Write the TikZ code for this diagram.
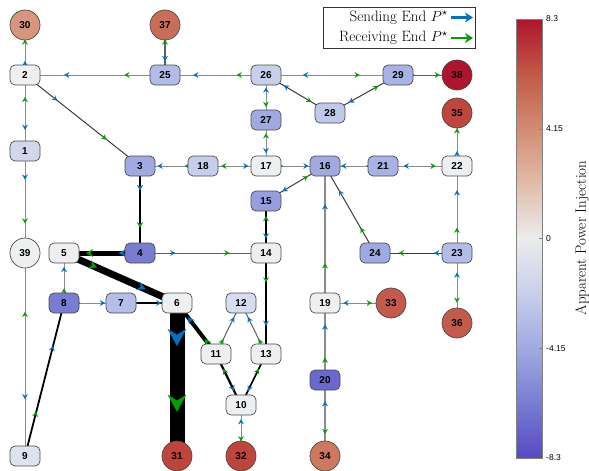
\documentclass[tikz,border=0pt]{standalone}
\usepackage{fontspec}
\setsansfont{Liberation Sans}
\usetikzlibrary{arrows.meta,decorations.markings,backgrounds}

\definecolor{cBlue}{RGB}{0,114,189}
\definecolor{cGreen}{RGB}{0,160,0}
\definecolor{cW}{RGB}{238,239,240}
\definecolor{gA}{RGB}{140,140,140}
\definecolor{gB}{RGB}{95,95,95}
\definecolor{gC}{RGB}{60,60,60}
\definecolor{cbGray}{RGB}{130,130,130}
% colour bar stops
\definecolor{cb0}{RGB}{88,72,196}
\definecolor{cb1}{RGB}{120,125,210}
\definecolor{cb2}{RGB}{160,170,225}
\definecolor{cb3}{RGB}{200,207,235}
\definecolor{cb4}{RGB}{236,236,237}
\definecolor{cb5}{RGB}{225,188,170}
\definecolor{cb6}{RGB}{210,140,115}
\definecolor{cb7}{RGB}{194,88,72}
\definecolor{cb8}{RGB}{175,20,45}
\pgfdeclareverticalshading{cbar}{100bp}{color(0bp)=(cb0); color(25bp)=(cb0); color(31.25bp)=(cb1); color(37.5bp)=(cb2); color(43.75bp)=(cb3); color(50bp)=(cb4); color(56.25bp)=(cb5); color(62.5bp)=(cb6); color(68.75bp)=(cb7); color(75bp)=(cb8); color(100bp)=(cb8)}

\newcommand{\dirA}{\arrowreversed}
\newcommand{\dirB}{\arrow}
\newcommand{\flowline}[7]{%
  \draw[line width=#3, draw=#4] (#1.center) -- (#2.center);
  \path[decorate, decoration={markings,
    mark=at position 0.28 with {#6[cBlue]{Stealth[length=#5, width'=0pt 1.1, inset'=0pt 0.35, line width=0.1pt]}},
    mark=at position 0.71 with {#7[cGreen]{Stealth[length=#5, width'=0pt 1.1, inset'=0pt 0.35, line width=0.1pt]}}}]
    (#1.center) -- (#2.center);
}

\begin{document}
\begin{tikzpicture}[x=1pt,y=-1pt,
  bus/.style={draw=black!70, line width=0.7pt, rounded corners=5pt, minimum width=30pt, minimum height=20pt, inner sep=0pt, font=\sffamily\bfseries\fontsize{10}{10}\selectfont},
  gen/.style={circle, draw=black!70, line width=0.7pt, minimum size=30pt, inner sep=0pt, font=\sffamily\bfseries\fontsize{10}{10}\selectfont},
  ticklab/.style={anchor=west, inner sep=0pt, font=\sffamily\fontsize{8.5}{8.5}\selectfont}]
\useasboundingbox (0,0) rectangle (589,471);

% buses
\node[gen, fill={rgb,255:red,213;green,150;blue,125}] (n30) at (25,25) {30};
\node[gen, fill={rgb,255:red,200;green,110;blue,88}] (n37) at (165,25) {37};
\node[bus, fill=cW] (n2) at (25,75) {2};
\node[bus, fill={rgb,255:red,178;green,188;blue,230}] (n25) at (165,75) {25};
\node[bus, fill={rgb,255:red,200;green,207;blue,235}] (n26) at (266,75) {26};
\node[bus, fill={rgb,255:red,168;green,178;blue,228}] (n29) at (398,75) {29};
\node[gen, fill={rgb,255:red,175;green,20;blue,45}] (n38) at (457,75) {38};
\node[bus, fill={rgb,255:red,192;green,200;blue,235}] (n28) at (330,113) {28};
\node[bus, fill={rgb,255:red,160;green,170;blue,225}] (n27) at (266,120) {27};
\node[gen, fill={rgb,255:red,190;green,70;blue,62}] (n35) at (457,113) {35};
\node[bus, fill={rgb,255:red,210;green,215;blue,236}] (n1) at (25,151) {1};
\node[bus, fill={rgb,255:red,160;green,170;blue,225}] (n3) at (140,166) {3};
\node[bus, fill={rgb,255:red,198;green,206;blue,235}] (n18) at (203,166) {18};
\node[bus, fill=cW] (n17) at (266,166) {17};
\node[bus, fill={rgb,255:red,160;green,170;blue,225}] (n16) at (325,166) {16};
\node[bus, fill={rgb,255:red,168;green,178;blue,228}] (n21) at (383,166) {21};
\node[bus, fill=cW] (n22) at (457,166) {22};
\node[bus, fill={rgb,255:red,150;green,158;blue,222}] (n15) at (266,201) {15};
\node[gen, fill=cW] (n39) at (25,253) {39};
\node[bus, fill=cW] (n5) at (64,253) {5};
\node[bus, fill={rgb,255:red,120;green,125;blue,210}] (n4) at (140,253) {4};
\node[bus, fill=cW] (n14) at (266,253) {14};
\node[bus, fill={rgb,255:red,160;green,170;blue,225}] (n24) at (375,253) {24};
\node[bus, fill={rgb,255:red,178;green,188;blue,230}] (n23) at (457,253) {23};
\node[bus, fill={rgb,255:red,120;green,125;blue,210}] (n8) at (64,303) {8};
\node[bus, fill={rgb,255:red,180;green,190;blue,232}] (n7) at (121,303) {7};
\node[bus, fill=cW] (n6) at (177,303) {6};
\node[bus, fill={rgb,255:red,215;green,220;blue,238}] (n12) at (241,303) {12};
\node[bus, fill=cW] (n19) at (325,303) {19};
\node[gen, fill={rgb,255:red,195;green,90;blue,75}] (n33) at (391,303) {33};
\node[gen, fill={rgb,255:red,195;green,90;blue,75}] (n36) at (457,323) {36};
\node[bus, fill=cW] (n11) at (216,354) {11};
\node[bus, fill=cW] (n13) at (266,354) {13};
\node[bus, fill={rgb,255:red,105;green,105;blue,205}] (n20) at (325,380) {20};
\node[bus, fill=cW] (n10) at (241,405) {10};
\node[bus, fill={rgb,255:red,222;green,225;blue,238}] (n9) at (25,456) {9};
\node[gen, fill={rgb,255:red,190;green,68;blue,60}] (n31) at (177,456) {31};
\node[gen, fill={rgb,255:red,190;green,68;blue,60}] (n32) at (241,456) {32};
\node[gen, fill={rgb,255:red,205;green,120;blue,95}] (n34) at (325,456) {34};

% branches
\begin{scope}[on background layer]
\flowline{n2}{n30}{1pt}{gA}{5pt}{\dirB}{\dirB}
\flowline{n25}{n37}{1.1pt}{gB}{5pt}{\dirA}{\dirB}
\flowline{n2}{n25}{1pt}{gA}{5pt}{\dirA}{\dirA}
\flowline{n25}{n26}{1pt}{gA}{5pt}{\dirA}{\dirA}
\flowline{n26}{n29}{1pt}{gA}{5pt}{\dirA}{\dirB}
\flowline{n29}{n38}{1pt}{gB}{5pt}{\dirB}{\dirB}
\flowline{n26}{n28}{1pt}{gC}{5pt}{\dirA}{\dirB}
\flowline{n28}{n29}{1pt}{gC}{5pt}{\dirA}{\dirB}
\flowline{n26}{n27}{1pt}{gA}{5pt}{\dirA}{\dirB}
\flowline{n17}{n27}{1pt}{gA}{5pt}{\dirA}{\dirB}
\flowline{n2}{n3}{1pt}{gC}{5pt}{\dirB}{\dirB}
\flowline{n1}{n2}{1pt}{gA}{5pt}{\dirA}{\dirB}
\flowline{n1}{n39}{1pt}{gA}{5pt}{\dirB}{\dirB}
\flowline{n3}{n18}{1pt}{gA}{5pt}{\dirA}{\dirA}
\flowline{n17}{n18}{1pt}{gA}{5pt}{\dirA}{\dirB}
\flowline{n16}{n17}{1pt}{gA}{5pt}{\dirA}{\dirA}
\flowline{n16}{n21}{1pt}{gA}{5pt}{\dirA}{\dirA}
\flowline{n21}{n22}{1pt}{gA}{5pt}{\dirA}{\dirB}
\flowline{n22}{n35}{1pt}{gA}{5pt}{\dirB}{\dirB}
\flowline{n15}{n16}{1pt}{gC}{5pt}{\dirA}{\dirB}
\flowline{n16}{n19}{1.2pt}{gA}{5pt}{\dirA}{\dirA}
\flowline{n16}{n24}{1pt}{gC}{5pt}{\dirA}{\dirA}
\flowline{n23}{n24}{1pt}{gC}{5pt}{\dirB}{\dirB}
\flowline{n22}{n23}{1pt}{gA}{5pt}{\dirA}{\dirA}
\flowline{n23}{n36}{1pt}{gA}{5pt}{\dirA}{\dirB}
\flowline{n14}{n15}{1.5pt}{black}{5pt}{\dirA}{\dirB}
\flowline{n3}{n4}{2pt}{black}{5.5pt}{\dirB}{\dirB}
\flowline{n4}{n5}{5pt}{black}{7pt}{\dirB}{\dirB}
\flowline{n4}{n14}{1pt}{gB}{5pt}{\dirB}{\dirB}
\flowline{n6}{n5}{7pt}{black}{8pt}{\dirA}{\dirA}
\flowline{n5}{n8}{1pt}{gA}{5pt}{\dirA}{\dirA}
\flowline{n7}{n8}{1pt}{gA}{5pt}{\dirA}{\dirA}
\flowline{n6}{n7}{1.3pt}{black}{5pt}{\dirA}{\dirA}
\flowline{n8}{n9}{1.8pt}{black}{5pt}{\dirA}{\dirA}
\flowline{n9}{n39}{1pt}{gA}{5pt}{\dirA}{\dirB}
\flowline{n6}{n31}{15pt}{black}{17pt}{\dirB}{\dirB}
\flowline{n6}{n11}{4pt}{black}{6.5pt}{\dirA}{\dirA}
\flowline{n12}{n11}{1pt}{gB}{5pt}{\dirA}{\dirA}
\flowline{n12}{n13}{1pt}{gB}{5pt}{\dirA}{\dirA}
\flowline{n13}{n14}{1.7pt}{black}{5pt}{\dirA}{\dirA}
\flowline{n10}{n11}{2.2pt}{black}{5.5pt}{\dirA}{\dirB}
\flowline{n10}{n13}{1.7pt}{black}{5pt}{\dirA}{\dirB}
\flowline{n10}{n32}{1pt}{gA}{5pt}{\dirA}{\dirB}
\flowline{n19}{n33}{1pt}{gA}{5pt}{\dirA}{\dirB}
\flowline{n19}{n20}{1.2pt}{gA}{5pt}{\dirA}{\dirA}
\flowline{n20}{n34}{1.2pt}{gA}{5pt}{\dirA}{\dirB}
\end{scope}

% legend
\node[draw=black!80, fill=white, line width=0.6pt, minimum width=152pt, minimum height=41pt, inner sep=0pt, anchor=north west] (legend) at (323,7) {};
\node[anchor=east, inner sep=0pt, font=\fontsize{15}{15}\selectfont] (legS) at (448,17.5) {Sending End $P^{\star}$};
\node[anchor=east, inner sep=0pt, font=\fontsize{15}{15}\selectfont] (legR) at (448,38) {Receiving End $P^{\star}$};
\coordinate (legSa) at (451,17.5);
\coordinate (legSb) at (473,17.5);
\coordinate (legRa) at (451,38);
\coordinate (legRb) at (473,38);
\draw[cBlue, line width=2.6pt, -{Stealth[length=8pt, width=10pt, inset=2.5pt]}] (legSa) -- (legSb);
\draw[cGreen, line width=2.6pt, -{Stealth[length=8pt, width=10pt, inset=2.5pt]}] (legRa) -- (legRb);

% colour bar
\shade[shading=cbar] (516,19) rectangle (542,458);
\node[draw=cbGray, line width=0.5pt, minimum width=26pt, minimum height=439pt, inner sep=0pt, anchor=north west] (cbox) at (516,19) {};
\foreach \yy/\lab in {19/8.3, 128.75/4.15, 238.5/0, 348.25/-4.15, 458/-8.3}{
  \draw[draw=cbGray, line width=0.5pt] (542,\yy) -- (539,\yy);
  \node[ticklab] at (546,\yy) {\lab};
}
\node[rotate=90, inner sep=0pt, font=\fontsize{15}{15}\selectfont] (cblabel) at (582,238) {Apparent Power Injection};
\end{tikzpicture}
\end{document}
